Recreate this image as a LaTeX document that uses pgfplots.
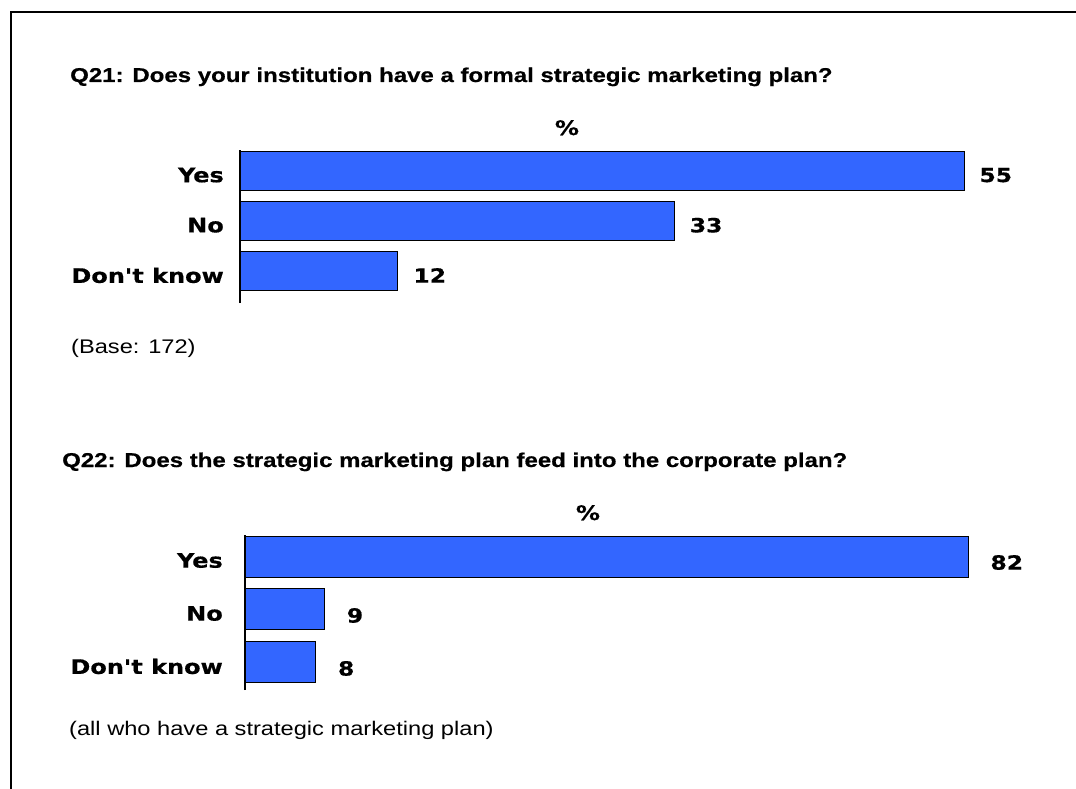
\documentclass[border=0pt]{standalone}
\usepackage{fontspec}
\usepackage{pgfplots}
\pgfplotsset{compat=1.18}
\setmainfont[FakeStretch=1.2, Ligatures=TeXOff, BoldFeatures={FakeBold=0.5}]{Liberation Sans}
\newfontfamily\catfont[FakeStretch=1.2, Ligatures=TeXOff, BoldFeatures={FakeBold=0.6}]{DejaVu Sans}
\definecolor{barblue}{RGB}{51,102,255}
\newcommand\catsize{\catfont\bfseries\fontsize{20bp}{24bp}\selectfont}
\newcommand\valsize{\catfont\bfseries\fontsize{19.5bp}{24bp}\selectfont}
\pgfplotsset{
  mybars/.style={
    xbar, xmin=0, scale only axis, clip=false,
    axis x line=none, axis y line=left,
    y axis line style={-, line width=2bp, black},
    ytick={0,1,2}, yticklabels={Don't know,No,Yes},
    major tick length=0pt,
    yticklabel style={font=\catsize, inner sep=0pt, anchor=east},
    /pgf/number format/assume math mode=true,
    point meta=x,
  },
  barplot/.style={
    fill=barblue, draw=black, line width=1bp,
    nodes near coords={\pgfmathprintnumber[assume math mode=true]{\pgfplotspointmeta}},
    every node near coord/.append style={font=\valsize, text=black, anchor=west, inner sep=0pt},
  }
}
\begin{document}
\begin{tikzpicture}[x=1bp,y=1bp]
\useasboundingbox (0,0) rectangle (1076,-789);
\draw[line width=2bp] (11,-789) -- (11,-12) -- (1076,-12);
\node[anchor=base west, inner sep=0pt, font=\fontsize{20bp}{24bp}\selectfont\bfseries] at (70,-82) {Q21: Does your institution have a formal strategic marketing plan?};
\node[anchor=base, inner sep=0pt, font=\catsize] at (567,-135) {\%};
\node[anchor=base west, inner sep=0pt, font=\fontsize{19.7bp}{24bp}\selectfont] at (71,-353) {(Base: 172)};
\node[anchor=base west, inner sep=0pt, font=\fontsize{20bp}{24bp}\selectfont\bfseries] at (62,-467) {Q22: Does the strategic marketing plan feed into the corporate plan?};
\node[anchor=base, inner sep=0pt, font=\catsize] at (588,-520) {\%};
\node[anchor=base west, inner sep=0pt, font=\fontsize{19.7bp}{24bp}\selectfont] at (69,-735) {(all who have a strategic marketing plan)};

\begin{axis}[mybars, at={(240bp,-303bp)}, anchor=south west,
  xmax=55, ymin=-0.63, ymax=2.42, width=724bp, height=153bp, bar width=39bp,
  yticklabel style={xshift=-16bp, yshift=-4bp}]
\addplot[barplot, every node near coord/.append style={xshift=15bp, yshift=-4bp}]
  coordinates {(55,2) (33,1) (12,0)};
\end{axis}

\begin{axis}[mybars, at={(245bp,-690bp)}, anchor=south west,
  xmax=82, ymin=-0.52, ymax=2.406, width=723bp, height=155bp, bar width=41bp,
  yticklabel style={xshift=-22bp, yshift=-4bp}]
\addplot[barplot, every node near coord/.append style={xshift=22bp, yshift=-6bp}]
  coordinates {(82,2) (9,1) (8,0)};
\end{axis}
\end{tikzpicture}
\end{document}
